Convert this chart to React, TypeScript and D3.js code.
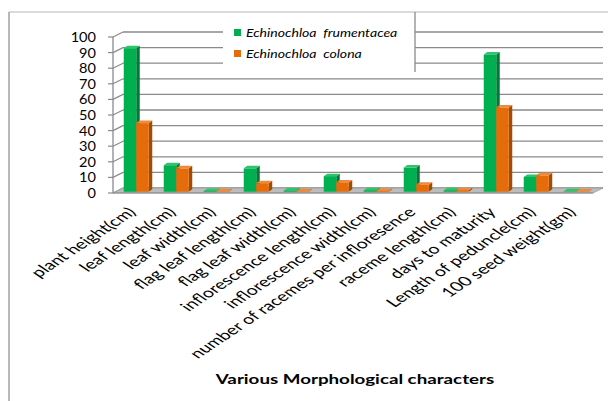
import React from "react";
import * as d3 from "d3";

const categories = [
  "plant height(cm)",
  "leaf length(cm)",
  "leaf width(cm)",
  "flag leaf length(cm)",
  "flag leaf width(cm)",
  "inflorescence length(cm)",
  "inflorescence width(cm)",
  "number of racemes per infloresence",
  "raceme length(cm)",
  "days to maturity",
  "Length of peduncle(cm)",
  "100 seed weight(gm)",
];
const frumentacea = [92, 17, 0.5, 15, 0.8, 10, 1, 15.5, 1, 88, 9.5, 0.3];
const colona = [44, 15, 0.3, 5.5, 0.3, 6, 0.5, 4.5, 1, 54, 10.5, 0.2];
const seriesNames = ["Echinochloa  frumentacea", "Echinochloa  colona"];
const yTicks = [0, 10, 20, 30, 40, 50, 60, 70, 80, 90, 100];
const xTitle = "Various Morphological characters";

const COLORS = [
  { front: "#00b050", side: "#007a37", top: "#2fc46c" },
  { front: "#e46c0a", side: "#a34c06", top: "#f08a3a" },
];

export default function App() {
  const W = 608;
  const H = 401;
  const x0 = 113;
  const x1 = 593;
  const yBase = 193;
  const yTop = 37;
  const DX = 10;
  const DY = 5;

  const x = d3.scaleBand<string>().domain(categories).range([x0, x1]).paddingInner(0).paddingOuter(0);
  const y = d3.scaleLinear().domain([0, 100]).range([yBase, yTop]);
  const inner = d3.scaleBand<number>().domain([0, 1]).range([0, x.bandwidth()]).paddingOuter(0.6).paddingInner(0);

  const bw = inner.bandwidth();
  const bdx = 3.5;
  const bdy = 2.5;

  const bars: React.ReactNode[] = [];
  categories.forEach((c, i) => {
    [frumentacea[i], colona[i]].forEach((v, s) => {
      const col = COLORS[s];
      const bx = (x(c) as number) + (inner(s) as number) + DX / 2 - bdx / 2;
      const by0 = yBase - DY / 2 + bdy / 2;
      const by1 = y(v) - DY / 2 + bdy / 2;
      bars.push(
        <g key={`${i}-${s}`}>
          <polygon
            points={`${bx + bw},${by0} ${bx + bw + bdx},${by0 - bdy} ${bx + bw + bdx},${by1 - bdy} ${bx + bw},${by1}`}
            fill={col.side}
          />
          <polygon
            points={`${bx},${by1} ${bx + bdx},${by1 - bdy} ${bx + bw + bdx},${by1 - bdy} ${bx + bw},${by1}`}
            fill={col.top}
          />
          <rect x={bx} y={by1} width={bw} height={Math.max(0, by0 - by1)} fill={col.front} />
        </g>
      );
    });
  });

  const grid = "#8a8a8a";

  return (
    <svg width={W} height={H} style={{ position: "absolute", left: 0, top: 0 }}>
      <rect x={0} y={0} width={W} height={H} fill="#fff" />
      {/* frame */}
      <line x1={9} y1={12} x2={W} y2={12} stroke="#b5b5b5" strokeWidth={1.2} />
      <line x1={9} y1={12} x2={9} y2={H} stroke="#a0a0a0" strokeWidth={1.5} />
      {/* back wall gridlines */}
      {yTicks.map((t) => (
        <g key={t}>
          <line x1={x0 + DX} y1={y(t) - DY} x2={x1 + DX} y2={y(t) - DY} stroke={grid} strokeWidth={1.3} />
          <line x1={x0} y1={y(t)} x2={x0 + DX} y2={y(t) - DY} stroke={grid} strokeWidth={1.2} />
          <line x1={x0 - 5} y1={y(t)} x2={x0} y2={y(t)} stroke={grid} strokeWidth={1.2} />
        </g>
      ))}
      {/* floor */}
      <polygon
        points={`${x0},${yBase} ${x1},${yBase} ${x1 + DX},${yBase - DY} ${x0 + DX},${yBase - DY}`}
        fill="#bdbdbd"
        stroke="#9a9a9a"
        strokeWidth={0.8}
      />
      <line x1={x0} y1={yTop} x2={x0} y2={yBase} stroke={grid} strokeWidth={1.3} />
      <line x1={x0} y1={yBase} x2={x1} y2={yBase} stroke={grid} strokeWidth={1.2} />
      {bars}
      {/* y labels */}
      {yTicks.map((t) => (
        <text
          key={t}
          transform={`translate(96,${y(t) + 5}) scale(1.12,1)`}
          textAnchor="end"
          fontFamily="Lato"
          fontSize={13}
          fill="#000"
        >
          {t}
        </text>
      ))}
      {/* x labels */}
      {categories.map((c) => (
        <text
          key={c}
          transform={`translate(${(x(c) as number) + x.bandwidth() / 2 + 4},${yBase + 20}) scale(1.5,1) rotate(-45)`}
          textAnchor="end"
          fontFamily="Lato"
          fontSize={13.2}
          fill="#000"
        >
          {c}
        </text>
      ))}
      {/* axis title */}
      <text
        transform={`translate(355,384) scale(1.5,1)`}
        textAnchor="middle"
        fontFamily="Lato"
        fontWeight="bold"
        fontSize={12.5}
        fill="#000"
      >
        {xTitle}
      </text>
      {/* legend */}
      <rect x={223} y={13} width={192} height={63} fill="#fff" />
      <line x1={415} y1={12} x2={415} y2={72} stroke="#8a8a8a" strokeWidth={1.3} />
      {seriesNames.map((n, s) => (
        <g key={n}>
          <rect x={234} y={29 + s * 21} width={7} height={7} fill={COLORS[s].front} />
          <text
            transform={`translate(246,${36.5 + s * 21}) scale(1.28,1)`}
            fontFamily="Lato"
            fontStyle="italic"
            fontSize={11}
            fill="#000"
            style={{ whiteSpace: "pre" }}
          >
            {n}
          </text>
        </g>
      ))}
    </svg>
  );
}
